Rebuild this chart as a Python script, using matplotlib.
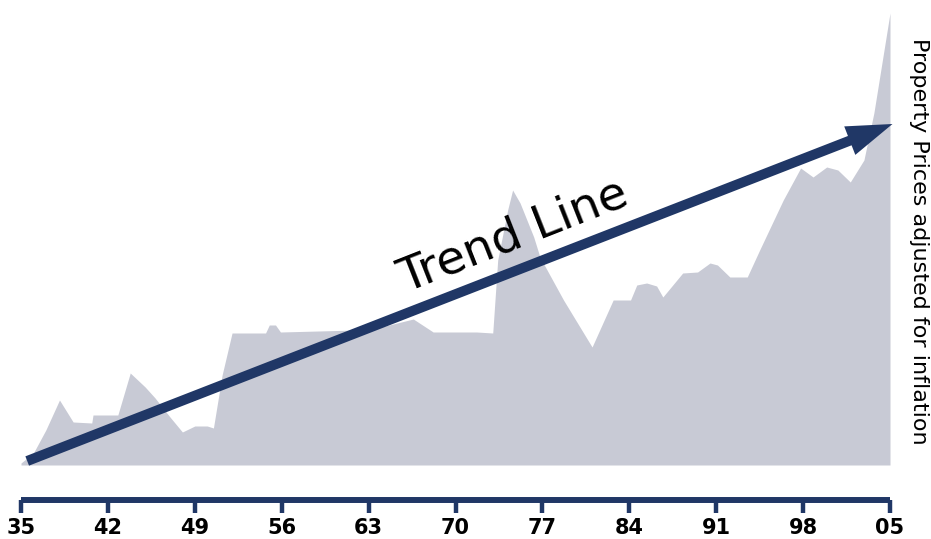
import matplotlib
matplotlib.use("Agg")
import matplotlib.pyplot as plt
from matplotlib.patches import FancyArrowPatch, ArrowStyle

# ---- data (index values) ----
years = [1935.0, 1936.0, 1937.0, 1938.1, 1939.2, 1940.7, 1940.8, 1942.8, 1943.8, 1945.0,
         1945.8, 1947.0, 1948.0, 1949.0, 1950.0, 1950.5, 1951.2, 1952.0, 1954.7, 1955.0,
         1955.5, 1955.9, 1962.0, 1964.0, 1966.6, 1968.2, 1971.7, 1973.0, 1973.4, 1974.2,
         1974.6, 1975.2, 1976.3, 1976.8, 1978.7, 1981.0, 1982.7, 1984.1, 1984.6, 1985.4,
         1986.2, 1986.7, 1988.3, 1989.5, 1990.5, 1991.1, 1992.1, 1993.5, 1994.5, 1996.4,
         1997.8, 1998.8, 1999.9, 2000.8, 2001.8, 2002.9, 2003.7, 2005.0]
prices = [2, 12, 35, 65, 43, 42, 50, 50, 92, 78,
          67, 48, 33, 39, 39, 37, 90, 132, 132, 140,
          140, 133, 135, 138, 146, 133, 133, 132, 205, 255,
          275, 262, 228, 208, 165, 118, 165, 165, 180, 182,
          179, 168, 192, 193, 202, 200, 188, 188, 215, 265,
          297, 288, 298, 295, 283, 305, 352, 452]

trend_years = [1935.5, 2005.2]
trend_values = [4, 341]

tick_years = [1935, 1942, 1949, 1956, 1963, 1970, 1977, 1984, 1991, 1998, 2005]
tick_labels = ['35', '42', '49', '56', '63', '70', '77', '84', '91', '98', '05']

NAVY = '#203766'
FILL = '#c8cad5'

fig = plt.figure(figsize=(9.31, 5.39), dpi=100)
ax = fig.add_axes([21 / 931, (539 - 465) / 539, 869 / 931, 455 / 539])
ax.set_xlim(1935, 2005)
ax.set_ylim(0, 455)

ax.fill_between(years, 0, prices, color=FILL, linewidth=0, clip_on=False)

# trend arrow
arrow = FancyArrowPatch((trend_years[0], trend_values[0]), (trend_years[1], trend_values[1]),
                        arrowstyle=ArrowStyle.Simple(head_length=33, head_width=22, tail_width=7.2),
                        mutation_scale=1, color=NAVY, lw=0, shrinkA=0, shrinkB=0,
                        clip_on=False, zorder=3)
ax.add_patch(arrow)

ax.text(1974.7, 229, 'Trend Line', fontsize=34, rotation=21.5, rotation_mode='anchor',
        ha='center', va='center', color='black', family='DejaVu Sans')

# axes styling
for s in ['top', 'left', 'right']:
    ax.spines[s].set_visible(False)
ax.spines['bottom'].set_position(('outward', 25.2))
ax.spines['bottom'].set_color(NAVY)
ax.spines['bottom'].set_linewidth(4.3)
ax.spines['bottom'].set_bounds(1935, 2005)
ax.spines['bottom'].set_capstyle('butt')
ax.set_yticks([])
ax.set_xticks(tick_years)
ax.set_xticklabels(tick_labels, fontsize=15, fontweight='bold', family='DejaVu Sans')
ax.tick_params(axis='x', direction='out', length=9.4, width=3.2, color=NAVY, pad=3.5)

fig.text(919 / 931, 1 - 241 / 539, 'Property Prices adjusted for inflation', rotation=-90,
         ha='center', va='center', fontsize=16, family='DejaVu Sans', color='black')

fig.savefig('out.png', dpi=100)
